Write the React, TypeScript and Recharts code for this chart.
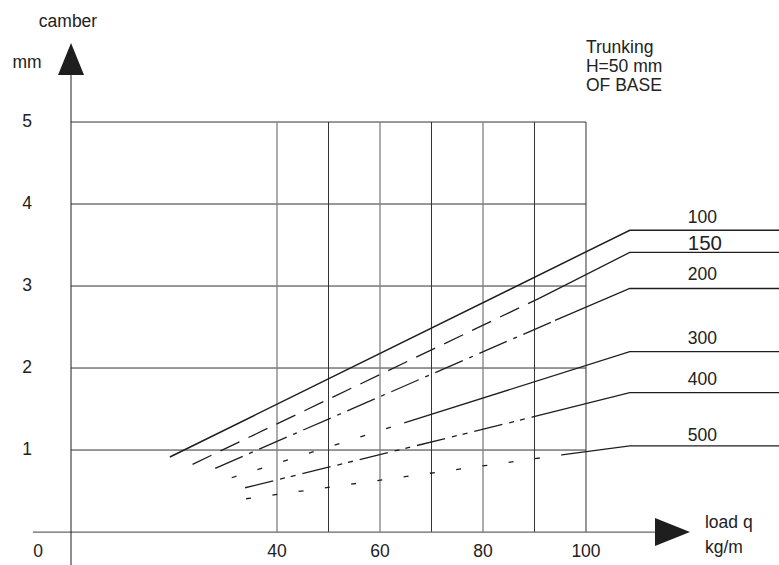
import { LineChart, Line, XAxis, YAxis, ReferenceLine, ReferenceDot } from "recharts";

// load q (kg/m) on x, camber (mm) on y
const qTicks = [40, 60, 80, 100];
const gridQ = [40, 50, 60, 70, 80, 90, 100];
const camberTicks = [1, 2, 3, 4, 5];

// each curve: patterned part + solid leader that runs out to its label
const line100 = [
  { q: 19.2, c: 0.915 },
  { q: 108.5, c: 3.68 },
  { q: 137.5, c: 3.68 },
];
const line150 = [
  { q: 23.6, c: 0.826 },
  { q: 90.9, c: 2.85 },
];
const lead150 = [
  { q: 90.9, c: 2.85 },
  { q: 108.5, c: 3.41 },
  { q: 137.5, c: 3.41 },
];
const line200 = [
  { q: 28.0, c: 0.777 },
  { q: 94.0, c: 2.58 },
];
const lead200 = [
  { q: 94.0, c: 2.58 },
  { q: 108.5, c: 2.97 },
  { q: 137.5, c: 2.97 },
];
const line300 = [
  { q: 31.2, c: 0.662 },
  { q: 64.7, c: 1.33 },
];
const lead300 = [
  { q: 64.7, c: 1.33 },
  { q: 108.5, c: 2.2 },
  { q: 137.5, c: 2.2 },
];
const line400 = [
  { q: 33.8, c: 0.54 },
  { q: 89.5, c: 1.4 },
];
const lead400 = [
  { q: 89.5, c: 1.4 },
  { q: 108.5, c: 1.7 },
  { q: 137.5, c: 1.7 },
];
const line500 = [
  { q: 34.0, c: 0.406 },
  { q: 95.3, c: 0.94 },
];
const lead500 = [
  { q: 95.3, c: 0.94 },
  { q: 108.5, c: 1.05 },
  { q: 137.5, c: 1.05 },
];

const curveLabels = [
  { text: "100", c: 3.68, dy: -7.5, size: 17.5 },
  { text: "150", c: 3.41, dy: -2, size: 20.5 },
  { text: "200", c: 2.97, dy: -8, size: 17.5 },
  { text: "300", c: 2.2, dy: -7.5, size: 17.5 },
  { text: "400", c: 1.7, dy: -7.5, size: 17.5 },
  { text: "500", c: 1.05, dy: -4.5, size: 17.5 },
];
const noteLines = ["Trunking", "H=50 mm", "OF BASE"];

const INK = "#1e1e1e";
const FONT = "'Liberation Sans', Arial, sans-serif";
const SIZE = 17.5;

function textAt(
  key: string,
  x: number,
  y: number,
  text: string,
  dx: number,
  dy: number,
  anchor: "start" | "middle" | "end" = "middle",
  size = SIZE
) {
  return (
    <ReferenceDot
      key={key}
      x={x}
      y={y}
      r={0}
      ifOverflow="visible"
      shape={(p: any) => (
        <text
          x={p.cx + dx}
          y={p.cy + dy}
          textAnchor={anchor}
          fontFamily={FONT}
          fontSize={size}
          fill="#222"
        >
          {text}
        </text>
      )}
    />
  );
}

function curve(key: string, data: { q: number; c: number }[], dash?: string, width = 1.3) {
  return (
    <Line
      key={key}
      data={data}
      dataKey="c"
      type="linear"
      stroke={INK}
      strokeWidth={width}
      strokeDasharray={dash}
      dot={false}
      activeDot={false}
      isAnimationActive={false}
    />
  );
}

export default function App() {
  return (
    <div style={{ position: "absolute", left: 0, top: 0, width: 779, height: 565, background: "#fff" }}>
      <LineChart width={779} height={565} margin={{ top: 0, right: 0, bottom: 0, left: 0 }}>
        <XAxis type="number" dataKey="q" domain={[-13.79, 137.48]} hide allowDataOverflow />
        <YAxis type="number" domain={[-0.402, 6.488]} hide allowDataOverflow />

        {camberTicks.map((c) => (
          <ReferenceLine
            key={`h${c}`}
            segment={[
              { x: 0, y: c },
              { x: 100, y: c },
            ]}
            stroke="#333"
            strokeWidth={1}
          />
        ))}
        {gridQ.map((q) => (
          <ReferenceLine
            key={`v${q}`}
            segment={[
              { x: q, y: 0 },
              { x: q, y: 5 },
            ]}
            stroke={q % 20 === 0 && q !== 100 ? "#808080" : "#333"}
            strokeWidth={q % 20 === 0 && q !== 100 ? 1.3 : 1}
          />
        ))}

        {/* axes */}
        <ReferenceLine
          segment={[
            { x: -7.4, y: 0 },
            { x: 113.4, y: 0 },
          ]}
          stroke="#666"
          strokeWidth={1.3}
        />
        <ReferenceLine
          segment={[
            { x: 0, y: -0.402 },
            { x: 0, y: 5.573 },
          ]}
          stroke={INK}
          strokeWidth={1}
        />
        <ReferenceDot
          x={0}
          y={5.573}
          r={0}
          ifOverflow="visible"
          shape={(p: any) => (
            <polygon
              points={`${p.cx - 13},${p.cy} ${p.cx + 13},${p.cy} ${p.cx},${p.cy - 32}`}
              fill={INK}
            />
          )}
        />
        <ReferenceDot
          x={113.4}
          y={0}
          r={0}
          ifOverflow="visible"
          shape={(p: any) => (
            <polygon
              points={`${p.cx},${p.cy - 14} ${p.cx},${p.cy + 14} ${p.cx + 35},${p.cy}`}
              fill={INK}
            />
          )}
        />

        {curve("l100", line100, undefined, 1.5)}
        {curve("l150", line150, "21 10")}
        {curve("p150", lead150)}
        {curve("l200", line200, "30 7 4 7")}
        {curve("p200", lead200)}
        {curve("l300", line300, "5 22")}
        {curve("p300", lead300)}
        {curve("l400", line400, "29 7 5 6 5 7")}
        {curve("p400", lead400)}
        {curve("l500", line500, "5 21.5")}
        {curve("p500", lead500)}

        {qTicks.map((q) => textAt(`xt${q}`, q, 0, String(q), 0, 25))}
        {camberTicks.map((c) => textAt(`yt${c}`, 0, c, String(c), -44, 5))}
        {textAt("zero", 0, 0, "0", -33, 25)}
        {textAt("camber", 0, 5.967, "camber", -3, -16)}
        {textAt("mm", 0, 5.573, "mm", -44, -7)}
        {textAt("loadq", 113.4, 0, "load q", 50, -4, "start")}
        {textAt("kgm", 113.4, 0, "kg/m", 50, 21, "start")}
        {noteLines.map((t, i) => textAt(`n${i}`, 100, 5, t, 0, -68.7 + i * 19, "start"))}
        {curveLabels.map((l) => textAt(`cl${l.text}`, 108.5, l.c, l.text, 58, l.dy, "start", l.size))}
      </LineChart>
    </div>
  );
}
